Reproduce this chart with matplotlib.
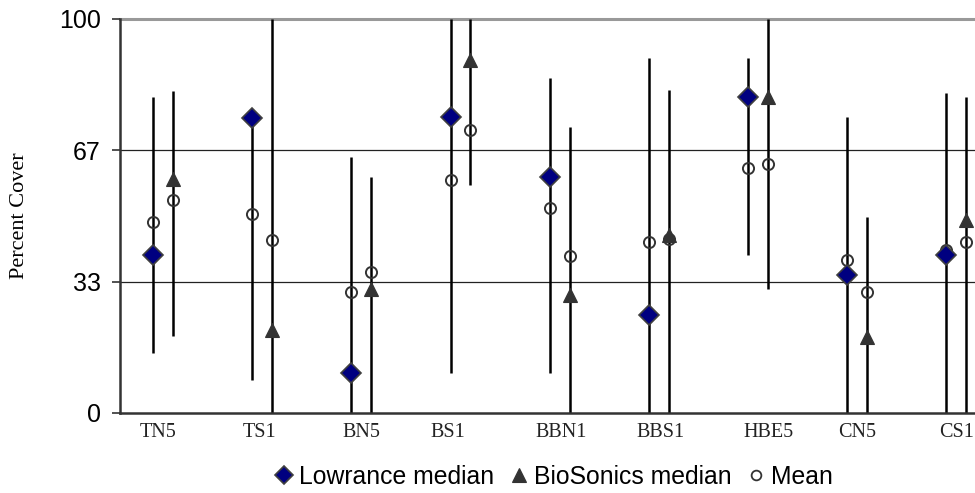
import matplotlib
matplotlib.use("Agg")
import matplotlib.pyplot as plt
from matplotlib.lines import Line2D
import numpy as np

categories = ['TN5', 'TS1', 'BN5', 'BS1', 'BBN1', 'BBS1', 'HBE5', 'CN5', 'CS1']
low_min = [15.2, 8.5, 0, 10.1, 10.1, 0, 40.1, 0, 0]
low_max = [80.3, 75.0, 65.1, 100, 84.9, 90.0, 90.0, 75.2, 81.3]
low_med = [40.1, 75.0, 10.1, 75.2, 60.0, 24.9, 80.1, 35.0, 40.1]
low_mean = [48.6, 50.5, 30.8, 59.1, 52.0, 43.5, 62.1, 38.8, 41.4]
bio_min = [19.6, 0, 0, 57.9, 0, 0, 31.4, 0, 0]
bio_max = [81.8, 100, 60.0, 100, 72.7, 82.0, 100, 49.8, 80.3]
bio_med = [59.5, 21.1, 31.4, 89.6, 29.9, 45.2, 80.1, 19.4, 49.0]
bio_mean = [54.1, 43.9, 35.7, 71.8, 39.8, 44.1, 63.2, 30.8, 43.5]
ytick_vals = [0, 100 / 3, 200 / 3, 100]
ytick_labels = ['0', '33', '67', '100']

fig = plt.figure(figsize=(9.75, 4.93), dpi=100)
ax = fig.add_axes([120 / 975, 80 / 493, 855 / 975, 394 / 493])

x = np.arange(len(categories))
off = 0.1
xl = x - off
xb = x + off

# gridlines
for v in ytick_vals[1:3]:
    ax.axhline(v, color='#222222', lw=0.9, zorder=1)
ax.axhline(100, color='#999999', lw=2.2, zorder=1, clip_on=False)

ax.vlines(xl, low_min, low_max, color='black', lw=1.8, zorder=2)
ax.vlines(xb, bio_min, bio_max, color='black', lw=1.8, zorder=2)

ax.plot(xl, low_mean, 'o', ms=8, mfc='none', mec='#333333', mew=1.4, zorder=4, ls='none')
ax.plot(xb, bio_mean, 'o', ms=8, mfc='none', mec='#333333', mew=1.4, zorder=4, ls='none')
ax.plot(xl, low_med, 'D', ms=10, mfc='#000080', mec='#404040', mew=1.2, zorder=5, ls='none')
ax.plot(xb, bio_med, '^', ms=10.5, mfc='#333333', mec='#333333', mew=0.8, zorder=5, ls='none')

ax.set_xlim(-0.434, 8.19)
ax.set_ylim(0, 100)

ax.set_yticks(ytick_vals)
ax.set_yticklabels(ytick_labels, fontsize=18, family='Liberation Sans')
ax.tick_params(axis='y', direction='out', length=6, width=1.2, color='#333333', pad=8)

label_offsets = [-0.05, -0.03, 0.0, -0.13, 0.02, 0.02, 0.11, 0.0, 0.0]
ax.set_xticks(x + np.array(label_offsets))
ax.set_xticklabels(categories, fontsize=14.5, family='Liberation Serif', color='#222222')
ax.tick_params(axis='x', length=0, pad=7)

for s in ['top', 'right']:
    ax.spines[s].set_visible(False)
ax.spines['left'].set_color('#333333')
ax.spines['left'].set_linewidth(1.8)
ax.spines['bottom'].set_color('#333333')
ax.spines['bottom'].set_linewidth(1.8)
ax.spines['left'].set_zorder(3)

fig.text(20 / 975, 1 - 216 / 493, 'Percent Cover', rotation=90, ha='center', va='center',
         fontsize=16, family='Liberation Serif')

handles = [
    Line2D([], [], marker='D', ls='none', ms=9, mfc='#000080', mec='#404040', mew=1.2),
    Line2D([], [], marker='^', ls='none', ms=10, mfc='#333333', mec='#333333', mew=0.8),
    Line2D([], [], marker='o', ls='none', ms=7, mfc='none', mec='#333333', mew=1.3),
]
fig.legend(handles, ['Lowrance median', 'BioSonics median', 'Mean'], loc='center',
           bbox_to_anchor=(555 / 975, 1 - 477 / 493), ncol=3, frameon=False,
           prop={'family': 'Liberation Sans', 'size': 17.8}, handlelength=0.6,
           handletextpad=0.3, columnspacing=0.7, borderpad=0)

fig.savefig('out.png', dpi=100)
